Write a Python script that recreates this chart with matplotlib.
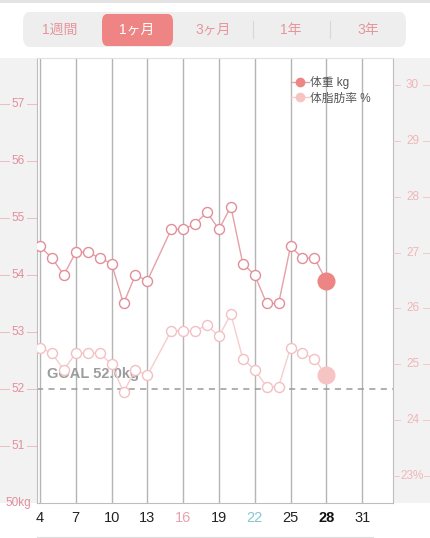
import matplotlib
matplotlib.use("Agg")
import matplotlib.pyplot as plt
from matplotlib.patches import Rectangle, FancyBboxPatch
from matplotlib.lines import Line2D
import matplotlib.transforms as mtransforms

plt.rcParams['font.family'] = ['Liberation Sans', 'Noto Sans CJK JP', 'DejaVu Sans']

# ---- data ----
days = [4, 5, 6, 7, 8, 9, 10, 11, 12, 13, 15, 16, 17, 18, 19, 20, 21, 22, 23, 24, 25, 26, 27, 28]
weight = [54.5, 54.3, 54.0, 54.4, 54.4, 54.3, 54.2, 53.5, 54.0, 53.9, 54.8, 54.8, 54.9, 55.1,
          54.8, 55.2, 54.2, 54.0, 53.5, 53.5, 54.5, 54.3, 54.3, 53.9]
fat = [25.3, 25.2, 24.9, 25.2, 25.2, 25.2, 25.0, 24.5, 24.9, 24.8, 25.6, 25.6, 25.6, 25.7,
       25.5, 25.9, 25.1, 24.9, 24.6, 24.6, 25.3, 25.2, 25.1, 24.8]
goal = 52.0
xticks = [4, 7, 10, 13, 16, 19, 22, 25, 28, 31]
xtick_labels = [str(d) for d in xticks]
left_ticks = [50, 51, 52, 53, 54, 55, 56, 57]
left_labels = ['50kg', '51', '52', '53', '54', '55', '56', '57']
right_ticks = [23, 24, 25, 26, 27, 28, 29, 30]
right_labels = ['23%', '24', '25', '26', '27', '28', '29', '30']
tabs = ['1週間', '1ヶ月', '3ヶ月', '1年', '3年']
legend_labels = ['体重 kg', '体脂肪率 %']

W, H = 430, 538
fig = plt.figure(figsize=(W / 100, H / 100), dpi=100)
fig.patch.set_facecolor('white')

def fx(px):
    return px / W

def fy(py):
    return 1 - py / H

PANEL = '#F2F2F2'
# side panels
fig.patches.append(Rectangle((fx(0), fy(503)), fx(37), 445 / H, transform=fig.transFigure,
                             facecolor=PANEL, edgecolor='none', zorder=-5))
fig.patches.append(Rectangle((fx(393), fy(503)), fx(37), 445 / H, transform=fig.transFigure,
                             facecolor=PANEL, edgecolor='none', zorder=-5))
# top thin band
fig.patches.append(Rectangle((0, fy(3)), 1, 3 / H, transform=fig.transFigure,
                             facecolor='#E4E4E4', edgecolor='none', zorder=-5))
# header segmented control
fig.patches.append(FancyBboxPatch((fx(23), fy(47)), fx(383), 35 / H, transform=fig.transFigure,
                                  boxstyle='round,pad=0,rounding_size=0.015',
                                  facecolor='#EEEEEE', edgecolor='none', zorder=-4,
                                  mutation_aspect=H / W))
fig.patches.append(FancyBboxPatch((fx(102), fy(46)), fx(71), 32 / H, transform=fig.transFigure,
                                  boxstyle='round,pad=0,rounding_size=0.012',
                                  facecolor='#EF8484', edgecolor='none', zorder=-3,
                                  mutation_aspect=H / W))
tab_x = [60, 137, 213, 291, 368]
for i, (t, x) in enumerate(zip(tabs, tab_x)):
    fig.text(fx(x), fy(30), t, ha='center', va='center', fontsize=10,
             color='white' if i == 1 else '#E6969C', zorder=3)
for sx in [253, 330]:
    fig.add_artist(Line2D([fx(sx), fx(sx)], [fy(21), fy(38)], transform=fig.transFigure,
                          color='#D8D8D8', lw=0.8))
# bottom line
fig.add_artist(Line2D([fx(37), fx(373)], [fy(537), fy(537)], transform=fig.transFigure,
                      color='#DDDDDD', lw=0.8))

# ---- main axes ----
ax = fig.add_axes([fx(37), fy(503), 356 / W, 445 / H])
ax.set_facecolor('white')
ax.set_xlim(3.749, 33.59)
ax.set_ylim(50, 57.807)
for s in ax.spines.values():
    s.set_color('#BDBDBD')
    s.set_linewidth(0.8)
ax.spines['top'].set_color('#E0E0E0')

ax.set_xticks(xticks)
ax.set_xticklabels(xtick_labels, fontsize=10.5)
ax.tick_params(axis='x', length=0, pad=6)
for lbl, d in zip(ax.get_xticklabels(), xticks):
    if d == 16:
        lbl.set_color('#E8A2AA')
    elif d == 22:
        lbl.set_color('#86C6CE')
    elif d == 28:
        lbl.set_color('#111111')
        lbl.set_fontweight('bold')
    else:
        lbl.set_color('#222222')
ax.grid(axis='x', color='#B5B5B5', lw=1.0, zorder=1)
ax.set_yticks([])

blend_l = mtransforms.blended_transform_factory(ax.transAxes, ax.transData)
lf = 37 / 356
for v, lab in zip(left_ticks, left_labels):
    ax.text(-lf / 2 + 0.0, v, lab, transform=blend_l, ha='center', va='center',
            fontsize=8.5, color='#E38E9C', clip_on=False)
    if v != 50:
        ax.plot([-lf, -lf + 9 / 356], [v, v], transform=blend_l, color='#E9BCC2', lw=0.7, clip_on=False)
        ax.plot([-10 / 356, 0], [v, v], transform=blend_l, color='#E9BCC2', lw=0.7, clip_on=False)

# goal line and text
ax.axhline(goal, color='#9A9A9A', lw=1.1, ls=(0, (4, 3.5)), zorder=2)
ax.text(4.59, goal + 0.26, 'GOAL %.1fkg' % goal, fontsize=10.5, fontweight='bold',
        color='#9C9C9C', ha='left', va='center', zorder=2)

# weight series
W_LINE = '#E6A0A6'
W_EDGE = '#E28E98'
W_FILL = '#EE8585'
ax.plot(days, weight, color=W_LINE, lw=1.0, zorder=3)
ax.plot(days[:-1], weight[:-1], ls='none', marker='o', ms=7.2, mfc='white', mec=W_EDGE,
        mew=1.0, zorder=4)
ax.plot(days[-1:], weight[-1:], ls='none', marker='o', ms=12, mfc=W_FILL, mec=W_FILL, zorder=5)

# fat series on right axis
ax2 = ax.twinx()
ax2.set_ylim(22.517, 30.483)
ax2.set_yticks([])
for s in ax2.spines.values():
    s.set_visible(False)
F_LINE = '#F5CDCD'
F_EDGE = '#F2C0C2'
F_FILL = '#F7C4C4'
ax2.plot(days, fat, color=F_LINE, lw=1.0, zorder=3)
ax2.plot(days[:-1], fat[:-1], ls='none', marker='o', ms=7.2, mfc='white', mec=F_EDGE,
         mew=1.0, zorder=4)
ax2.plot(days[-1:], fat[-1:], ls='none', marker='o', ms=12, mfc=F_FILL, mec=F_FILL, zorder=5)

blend_r = mtransforms.blended_transform_factory(ax2.transAxes, ax2.transData)
for v, lab in zip(right_ticks, right_labels):
    ax2.text(1 + lf / 2 + 0.003, v, lab, transform=blend_r, ha='center', va='center',
             fontsize=8.5, color='#F0B6B8', clip_on=False)
    if v != 23:
        ax2.plot([1, 1 + 7 / 356], [v, v], transform=blend_r, color='#EDCACC', lw=0.7, clip_on=False)
        ax2.plot([1 + 30 / 356, 1 + lf], [v, v], transform=blend_r, color='#EDCACC', lw=0.7, clip_on=False)
    else:
        ax2.plot([1, 1 + 6 / 356], [v, v], transform=blend_r, color='#EDCACC', lw=0.7, clip_on=False)
        ax2.plot([1 + 31 / 356, 1 + lf], [v, v], transform=blend_r, color='#EDCACC', lw=0.7, clip_on=False)

handles = [Line2D([0], [0], color=W_LINE, lw=1.0, marker='o', ms=6, mfc=W_FILL, mec=W_FILL),
           Line2D([0], [0], color=F_LINE, lw=1.0, marker='o', ms=6, mfc=F_FILL, mec=F_FILL)]
leg = ax2.legend(handles, legend_labels, loc='upper left', bbox_to_anchor=(fx(291), fy(76)),
                 bbox_transform=fig.transFigure, frameon=False, fontsize=8.5,
                 handlelength=1.5, handletextpad=0.15, labelspacing=0.3, borderpad=0,
                 borderaxespad=0)
for t in leg.get_texts():
    t.set_color('#555555')

fig.savefig('out.png', dpi=100)
